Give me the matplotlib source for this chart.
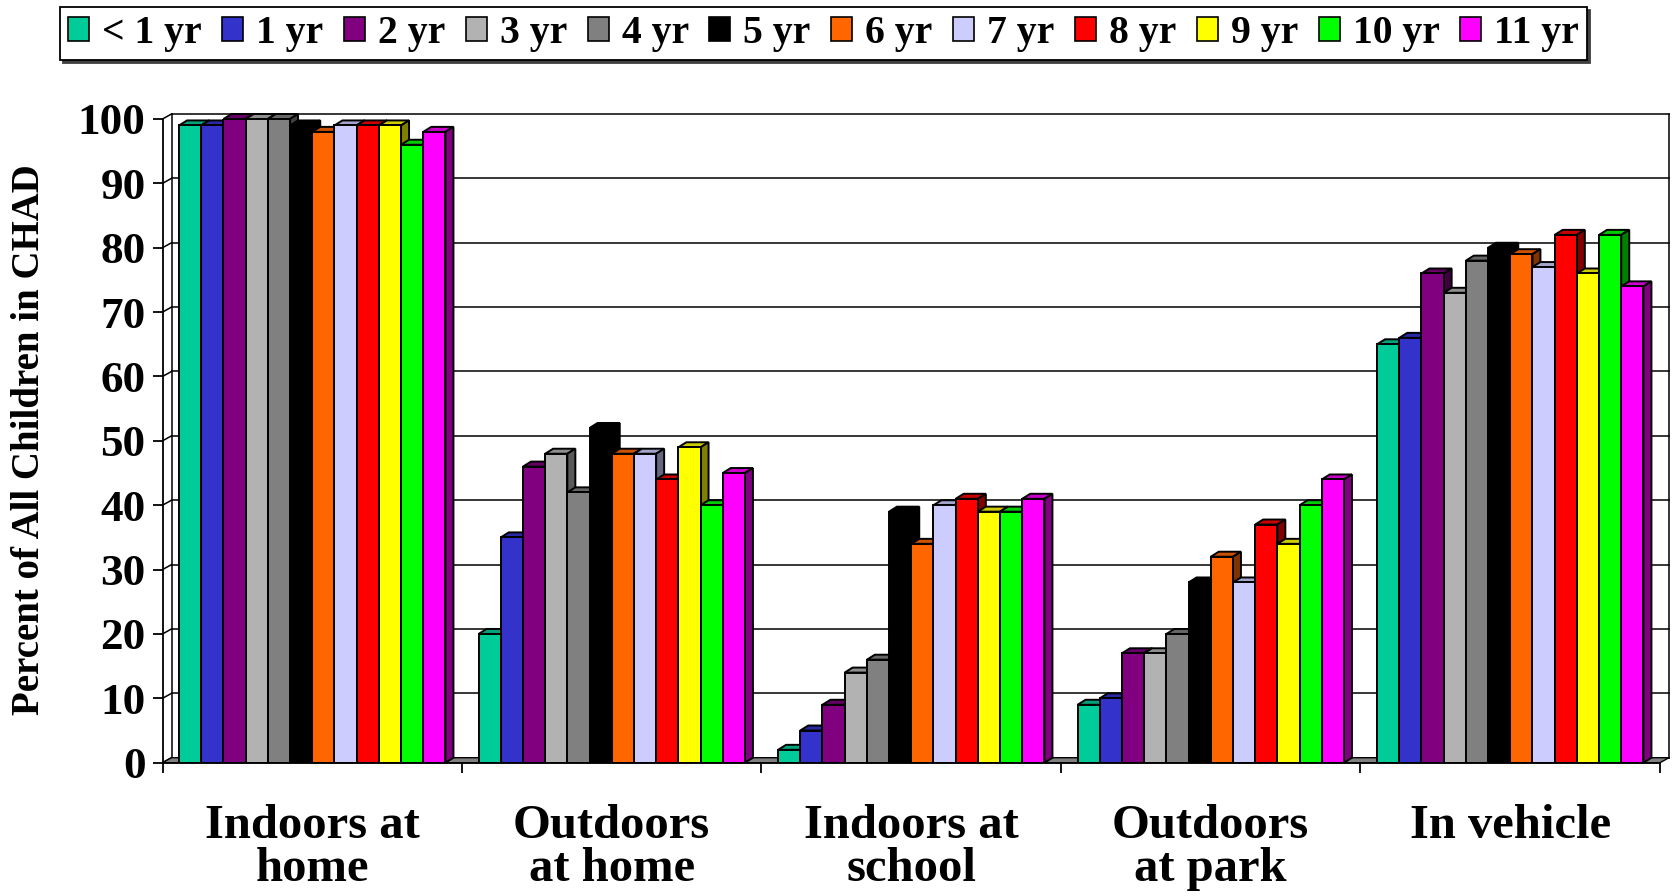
import numpy as np
import matplotlib
matplotlib.use("Agg")
import matplotlib.pyplot as plt
from matplotlib.patches import Polygon, Patch
from matplotlib.colors import to_rgb

plt.rcParams['font.family'] = ['Liberation Serif', 'DejaVu Serif']
plt.rcParams['font.weight'] = 'bold'

# data
categories = ["Indoors at\nhome", "Outdoors\nat home", "Indoors at\nschool",
              "Outdoors\nat park", "In vehicle"]
ages = ["< 1 yr", "1 yr", "2 yr", "3 yr", "4 yr", "5 yr", "6 yr", "7 yr",
        "8 yr", "9 yr", "10 yr", "11 yr"]
colors = ["#00CC99", "#3333CC", "#800080", "#B2B2B2", "#808080", "#000000",
          "#FF6600", "#CCCCFF", "#FF0000", "#FFFF00", "#00FF00", "#FF00FF"]
# one row per age group, columns follow categories
pct = np.array([
    [99, 20, 2, 9, 65],
    [99, 35, 5, 10, 66],
    [100, 46, 9, 17, 76],
    [100, 48, 14, 17, 73],
    [100, 42, 16, 20, 78],
    [99, 52, 39, 28, 80],
    [98, 48, 34, 32, 79],
    [99, 48, 40, 28, 77],
    [99, 44, 41, 37, 82],
    [99, 49, 39, 34, 76],
    [96, 40, 39, 40, 82],
    [98, 45, 41, 44, 74],
])
yticks = np.arange(0, 101, 10)

W, H = 1677, 896
fig = plt.figure(figsize=(W / 100, H / 100), dpi=100)
x0_px, x1_px = 162.5, 1660
y0_px, y100_px = 762.7, 119
ax = fig.add_axes([x0_px / W, 1 - y0_px / H, (x1_px - x0_px) / W, (y0_px - y100_px) / H])
ax.set_xlim(0, len(categories))
ax.set_ylim(0, 100)
ax.patch.set_visible(False)

pxx = len(categories) / (x1_px - x0_px)   # data units per pixel (x)
pxy = 100 / (y0_px - y100_px)             # data units per pixel (y)

# back wall / side wall / floor depth
wdx, wdy = 9 * pxx, 5 * pxy
bdx, bdy = 8 * pxx, 5 * pxy
n = len(categories)
lw = 1.4

# back wall gridlines
for v in yticks:
    ax.plot([wdx, n + wdx], [v + wdy, v + wdy], color='black', lw=1.1, zorder=1, clip_on=False)
    ax.plot([0, wdx], [v, v + wdy], color='black', lw=1.1, zorder=1, clip_on=False)
ax.plot([wdx, wdx], [wdy, 100 + wdy], color='black', lw=1.1, zorder=1, clip_on=False)
ax.plot([n + wdx, n + wdx], [wdy, 100 + wdy], color='black', lw=1.1, zorder=1, clip_on=False)
# floor
ax.add_patch(Polygon([(0, 0), (n, 0), (n + wdx, wdy), (wdx, wdy)], closed=True,
                     facecolor='#808080', edgecolor='black', lw=1.0, zorder=1.5, clip_on=False))

bw = 22.2 * pxx
nb = len(ages)
for j in range(nb):
    c = np.array(to_rgb(colors[j]))
    top_c = c * 0.8
    side_c = c * 0.5
    z = 3 + j * 0.1
    lefts = np.arange(n) + 0.5 - nb * bw / 2 + j * bw
    ax.bar(lefts, pct[j], width=bw, align='edge', color=colors[j],
           edgecolor='black', lw=lw, zorder=z + 0.05)
    for xl, v in zip(lefts, pct[j]):
        xr = xl + bw
        ax.add_patch(Polygon([(xl, v), (xr, v), (xr + bdx, v + bdy), (xl + bdx, v + bdy)],
                             closed=True, facecolor=top_c, edgecolor='black', lw=lw,
                             zorder=z, clip_on=False))
        ax.add_patch(Polygon([(xr, 0), (xr, v), (xr + bdx, v + bdy), (xr + bdx, bdy)],
                             closed=True, facecolor=side_c, edgecolor='black', lw=lw,
                             zorder=z, clip_on=False))

# axes: front spines and ticks
for s in ['top', 'right']:
    ax.spines[s].set_visible(False)
ax.spines['left'].set_linewidth(1.3)
ax.spines['bottom'].set_linewidth(1.3)
ax.spines['left'].set_zorder(2)
ax.spines['bottom'].set_zorder(10)
ax.set_yticks(yticks)
ax.set_yticklabels([str(v) for v in yticks])
ax.tick_params(axis='y', length=7.2, width=1.3, pad=5, labelsize=32.5)
ax.set_xticks(np.arange(n + 1))
ax.set_xticklabels([])
ax.tick_params(axis='x', length=7.2, width=1.3)

# category labels, one or two lines each
for i, cat in enumerate(categories):
    for k, line in enumerate(cat.split("\n")):
        base = 838 + 43 * k
        ax.text(i + 0.5, (y0_px - base) * pxy, line, ha='center', va='baseline',
                fontsize=35, fontweight='bold', clip_on=False)

ax.text((29 - x0_px) * pxx, (y0_px - 440) * pxy, "Percent of All Children in CHAD",
        rotation=90, ha='center', va='center', fontsize=28, fontweight='bold', clip_on=False)

handles = [Patch(facecolor=c, edgecolor='black', lw=1.2) for c in colors]
leg = fig.legend(handles, ages, loc='upper left', bbox_to_anchor=(60 / W, 1 - 7 / H),
                 ncol=len(ages), fontsize=28.5, frameon=True, fancybox=False,
                 handlelength=0.53, handleheight=0.53, handletextpad=0.33,
                 columnspacing=0.52, borderpad=0.2, borderaxespad=0,
                 shadow={'color': '#404040', 'alpha': 1})
leg.get_frame().set_edgecolor('black')
leg.get_frame().set_linewidth(1.3)

fig.savefig("out.png", dpi=100)
